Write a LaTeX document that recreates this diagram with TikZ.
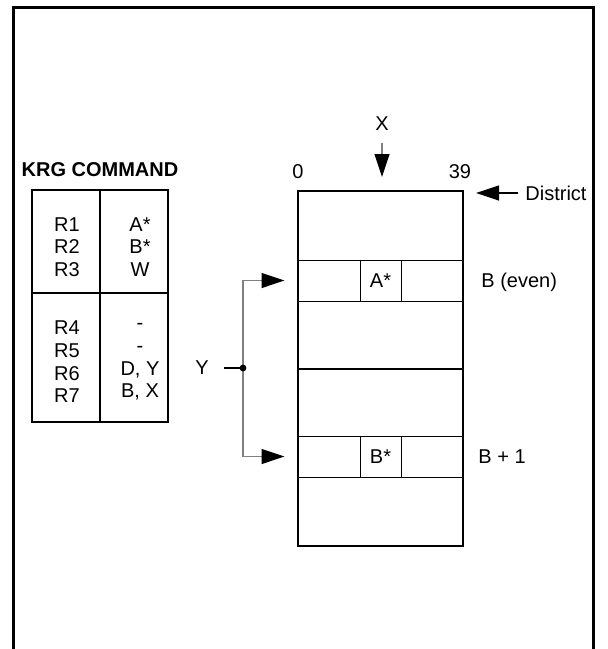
\documentclass[tikz,border=0pt]{standalone}
\usepackage{fontspec}
\setmainfont{Liberation Sans}
\usetikzlibrary{arrows.meta}

\begin{document}
\begin{tikzpicture}[x=0.5pt, y=-0.5pt,
  font=\fontsize{10}{11.35}\selectfont,
  box/.style={draw, line width=1pt, inner sep=0pt},
  cell/.style={draw, line width=0.5pt, inner sep=0pt, minimum height=20.5pt},
  tab/.style={draw, line width=0.6pt, inner sep=0pt},
  wire/.style={draw=black!50, line width=0.6pt},
  tip/.style={-{Triangle[length=11.5pt, width=7.5pt, color=black]}},
  lbl/.style={inner sep=0pt, align=center}]

  \useasboundingbox (0,0) rectangle (607,649);

  % frame, open at the bottom
  \draw[line width=1.5pt] (13,649) -- (13,7) -- (593,7) -- (593,649);

  % command table
  \node[lbl, font=\fontsize{10}{11}\selectfont\bfseries] (title) at (100,170) {KRG COMMAND};
  \node[tab, minimum width=68pt, minimum height=116pt] (cmd) at (100,306) {};
  \coordinate (cmdmid) at (100,293);
  \draw[line width=0.6pt] (cmd.north) -- (cmd.south);
  \draw[line width=0.6pt] (cmd.west |- cmdmid) -- (cmd.east |- cmdmid);
  \node[lbl] (regA) at (67,247) {R1\\R2\\R3};
  \node[lbl] (valA) at (140,247) {A*\\B*\\W};
  \node[lbl] (regB) at (67,362) {R4\\R5\\R6\\R7};
  \node[lbl] (valB) at (140,362) {-\\-\\D, Y\\B, X};

  % memory
  \node[box, minimum width=82.5pt, minimum height=177.5pt] (mem) at (380.5,368.5) {};
  \draw[line width=1pt] (mem.west) -- (mem.east);
  \node[cell, minimum width=82.5pt] (rowA) at (380.5,280.5) {};
  \node[cell, minimum width=20.5pt] (cellA) at (rowA) {A*};
  \node[cell, minimum width=82.5pt] (rowB) at (380.5,456.5) {};
  \node[cell, minimum width=20.5pt] (cellB) at (rowB) {B*};

  \node[lbl] (lo) at (298,172) {0};
  \node[lbl] (hi) at (460,172) {39};
  \node[lbl, anchor=west] (beven) at (481,282) {B (even)};
  \node[lbl, anchor=west] (bnext) at (478,457) {B + 1};

  % X pointer
  \node[lbl] (xlbl) at (382,124) {X};
  \coordinate (xend) at (382,177);
  \draw[wire, tip] ([yshift=-6pt]xlbl.south) -- (xend);

  % district pointer
  \node[lbl, anchor=west] (dist) at (525,193) {District};
  \coordinate (dend) at (476,193);
  \draw[line width=0.6pt, tip] ([xshift=-3.5pt]dist.west) -- (dend);

  % Y fan-out
  \node[lbl] (ylbl) at (202,368) {Y};
  \coordinate (ydot) at (243,368);
  \draw[line width=0.6pt, shorten <=7.5pt] (ylbl.east) -- (ydot);
  \draw[wire, tip, shorten >=6.5pt] (ydot) |- (rowA.west);
  \draw[wire, tip, shorten >=6.5pt] (ydot) |- (rowB.west);
  \fill (ydot) circle (1.7pt);
\end{tikzpicture}
\end{document}
